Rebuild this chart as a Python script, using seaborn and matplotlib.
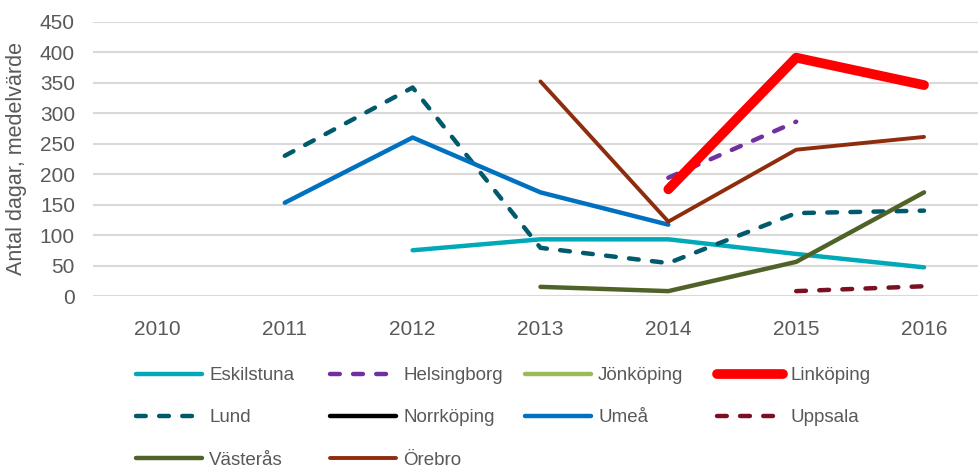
import numpy as np
import pandas as pd
import matplotlib
matplotlib.use("Agg")
import matplotlib.pyplot as plt
from matplotlib.lines import Line2D
import seaborn as sns

# Data
years = [2010, 2011, 2012, 2013, 2014, 2015, 2016]
nan = np.nan
eskilstuna = [nan, nan, 75, 93, 93, 69, 47]
helsingborg = [nan, nan, nan, nan, 194, 286, nan]
jonkoping = [nan, nan, nan, nan, nan, nan, nan]
linkoping = [nan, nan, nan, nan, 175, 391, 346]
lund = [nan, 230, 342, 79, 54, 136, 140]
norrkoping = [nan, nan, nan, nan, nan, nan, nan]
umea = [nan, 153, 260, 170, 117, nan, nan]
uppsala = [nan, nan, nan, nan, nan, 8, 16]
vasteras = [nan, nan, nan, 15, 8, 56, 170]
orebro = [nan, nan, nan, 352, 122, 240, 261]

dash = (0, (2.2, 3.0))
series = [
    ("Eskilstuna", eskilstuna, "#00A9B7", 3.2, "-"),
    ("Helsingborg", helsingborg, "#7030A0", 3.2, dash),
    ("Jönköping", jonkoping, "#9BBB59", 3.2, "-"),
    ("Linköping", linkoping, "#FF0000", 7.0, "-"),
    ("Lund", lund, "#005A6B", 3.2, dash),
    ("Norrköping", norrkoping, "#000000", 3.2, "-"),
    ("Umeå", umea, "#0070C0", 3.2, "-"),
    ("Uppsala", uppsala, "#7B1022", 3.2, dash),
    ("Västerås", vasteras, "#4F6228", 3.2, "-"),
    ("Örebro", orebro, "#8E2D0E", 2.8, "-"),
]

sns.set_style("white")
plt.rcParams['font.family'] = ['Liberation Sans', 'DejaVu Sans']

fig = plt.figure(figsize=(9.79, 4.70), dpi=100)
ax = fig.add_axes([93 / 979, 1 - 296 / 470, 1 - 93 / 979, (296 - 21.7) / 470])

handles = []
for name, vals, color, lw, ls in series:
    df = pd.DataFrame({'x': range(len(years)), 'y': vals}).dropna()
    if len(df):
        sns.lineplot(data=df, x='x', y='y', ax=ax, color=color, linewidth=lw,
                     linestyle=ls, dash_capstyle='round', solid_capstyle='round',
                     clip_on=False, zorder=3)
    handles.append(Line2D([], [], color=color, linewidth=lw, linestyle=ls,
                          dash_capstyle='round', solid_capstyle='round'))

ax.set_xlim(-0.5, 6.43)
ax.set_ylim(0, 450)
ax.set_yticks(range(0, 451, 50))
ax.set_xticks(range(len(years)))
ax.set_xticklabels([str(y) for y in years])
ax.tick_params(axis='both', length=0, labelsize=15, labelcolor='#595959')
ax.tick_params(axis='y', pad=13)
ax.tick_params(axis='x', pad=17)
ax.yaxis.grid(True, color='#D9D9D9', linewidth=1.5)
ax.xaxis.grid(False)
for s in ax.spines.values():
    s.set_visible(False)
ax.set_xlabel('')
ax.set_ylabel('Antal dagar, medelvärde', fontsize=15.5, color='#595959')
ax.yaxis.set_label_coords(-66 / 886, 0.5)

# Legend: four fixed-width columns like the original
names = [s[0] for s in series]
col_x = [136, 330, 525, 717]
for c, x in enumerate(col_x):
    idx = list(range(c, len(series), 4))
    leg = fig.legend([handles[i] for i in idx], [names[i] for i in idx],
                     loc='upper left', bbox_to_anchor=(x / 979, 1 - 367 / 470),
                     frameon=False, fontsize=13.5, labelcolor='#595959',
                     handlelength=3.5, handletextpad=0.4, labelspacing=1.34,
                     borderpad=0, borderaxespad=0)

fig.savefig('out.png', dpi=100)
